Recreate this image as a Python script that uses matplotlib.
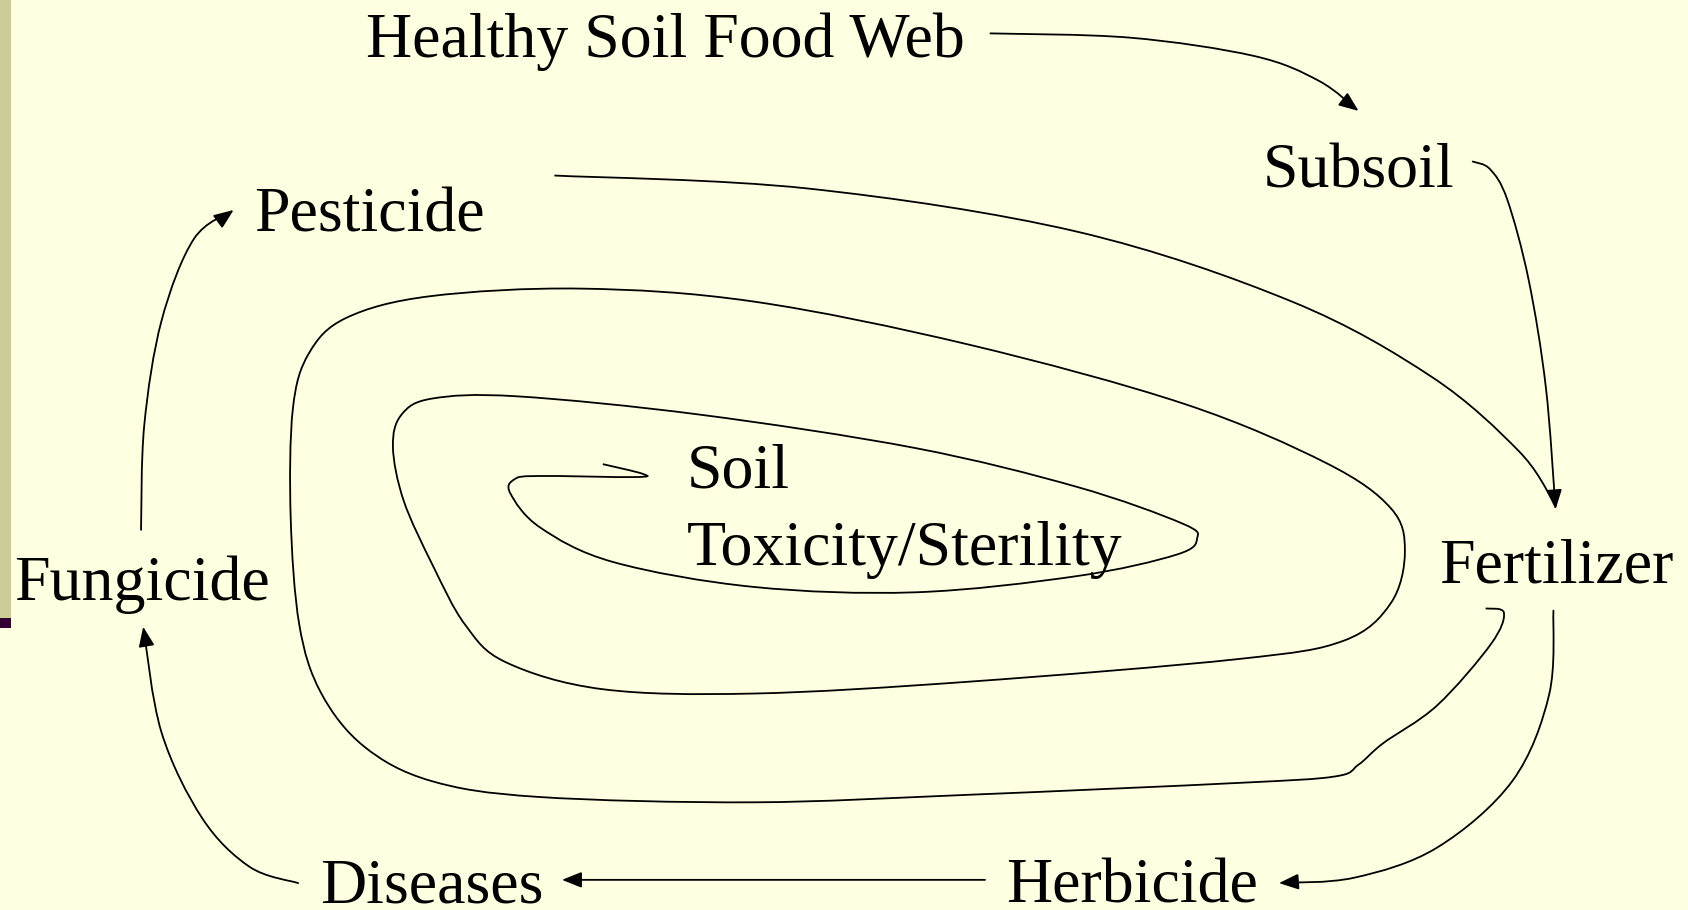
import numpy as np
import matplotlib.pyplot as plt
from matplotlib.path import Path
from matplotlib.patches import FancyArrowPatch, PathPatch, Rectangle

# drawing space (pixels of the slide, y downwards)
W, H = 1568, 845

# node labels: text, left x, baseline y
labels = ["Healthy Soil Food Web", "Subsoil", "Pesticide", "Fungicide",
          "Fertilizer", "Diseases", "Herbicide", "Soil", "Toxicity/Sterility"]
label_x = [340, 1173, 236, 13, 1337, 297, 935, 638, 638]
label_y = [53, 174, 215, 557, 541, 838, 838, 453, 525]

# connector waypoints
web_to_subsoil = [(920, 31), (1050, 35), (1165, 52), (1225, 75), (1262, 103)]
subsoil_to_fert = [(1368, 150), (1384, 157), (1400, 185), (1420, 260),
                   (1436, 360), (1445, 473)]
pest_to_fert = [(515, 163), (750, 175), (1000, 215), (1200, 280),
                (1330, 350), (1410, 418), (1441, 462)]
fert_to_herb = [(1443, 567), (1439, 645), (1405, 725), (1335, 787),
                (1258, 815), (1188, 820)]
herb_to_dis = [(915, 817), (522, 817)]
dis_to_fung = [(277, 820), (232, 805), (188, 760), (150, 680), (133, 582)]
fung_to_pest = [(131, 492), (134, 395), (150, 298), (180, 222), (217, 195)]

# the spiral into the centre
spiral = [(1380, 565), (1397, 569), (1385, 598), (1335, 655), (1285, 690),
          (1262, 710), (1240, 721), (1150, 727), (900, 738), (700, 745),
          (500, 740), (400, 725), (338, 693), (298, 643), (278, 580),
          (270, 480), (272, 380), (287, 328), (322, 295), (400, 275),
          (540, 268), (700, 280), (900, 320), (1100, 375), (1232, 430),
          (1292, 472), (1305, 512), (1292, 560), (1248, 595), (1150, 612),
          (900, 633), (700, 644), (560, 640), (470, 615), (432, 580),
          (402, 525), (375, 465), (365, 415), (373, 385), (402, 370),
          (480, 368), (650, 385), (850, 416), (1000, 452), (1098, 486),
          (1112, 500), (1093, 515), (1000, 535), (850, 550), (700, 545),
          (570, 522), (502, 490), (474, 458), (478, 445), (500, 442),
          (590, 443), (597, 440), (560, 431)]

bg = "#FFFFE1"
strip = "#CCCC99"
bar = "#330033"


def smooth_path(pts):
    p = np.asarray(pts, float)
    ext = np.vstack([p[0], p, p[-1]])
    verts = [p[0]]
    codes = [Path.MOVETO]
    for i in range(1, len(ext) - 2):
        c1 = ext[i] + (ext[i + 1] - ext[i - 1]) / 6
        c2 = ext[i + 1] - (ext[i + 2] - ext[i]) / 6
        verts += [c1, c2, ext[i + 1]]
        codes += [Path.CURVE4] * 3
    return Path(verts, codes)


fig = plt.figure(figsize=(16.88, 9.10), dpi=100)
fig.patch.set_facecolor(bg)
ax = fig.add_axes([0, 0, 1, 1])
ax.set_facecolor(bg)
ax.set_xlim(0, W)
ax.set_ylim(H, 0)
ax.axis("off")

# slide edge decoration
ax.add_patch(Rectangle((0, 0), 10, 574, facecolor=strip, edgecolor="none"))
ax.add_patch(Rectangle((0, 574), 10, 9, facecolor=bar, edgecolor="none"))

for t, x, y in zip(labels, label_x, label_y):
    ax.text(x, y, t, fontsize=46, family="Liberation Serif",
            ha="left", va="baseline", color="black")

arrow_kw = dict(arrowstyle="-|>,head_length=0.5,head_width=0.2",
                mutation_scale=24, lw=1.3, color="black")
for pts in [web_to_subsoil, subsoil_to_fert, fert_to_herb, herb_to_dis,
            dis_to_fung, fung_to_pest]:
    ax.add_patch(FancyArrowPatch(path=smooth_path(pts), **arrow_kw))

for pts in [pest_to_fert, spiral]:
    ax.add_patch(PathPatch(smooth_path(pts), facecolor="none",
                           edgecolor="black", lw=1.3))

fig.savefig("out.png", dpi=100, facecolor=bg)
